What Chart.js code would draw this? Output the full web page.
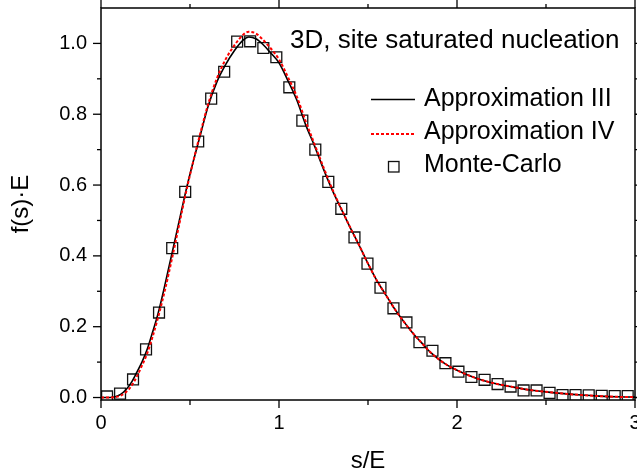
<!DOCTYPE html>
<html><head><meta charset="utf-8">
<script src="https://cdn.jsdelivr.net/npm/chart.js@4/dist/chart.umd.min.js"></script>
<style>html,body{margin:0;padding:0;background:#fff;overflow:hidden}</style>
</head><body>
<canvas id="c" width="637" height="473"></canvas>
<script>
// ---- data ----
const mcS = [0.034,0.107,0.180,0.253,0.326,0.400,0.473,0.546,0.619,0.692,0.765,0.838,0.912,0.985,1.058,1.131,1.204,1.277,1.350,1.424,1.497,1.570,1.643,1.716,1.789,1.862,1.935,2.008,2.081,2.155,2.228,2.301,2.374,2.447,2.520,2.593,2.666,2.740,2.813,2.886,2.959];
const mcF = [0.003,0.011,0.051,0.136,0.240,0.422,0.581,0.723,0.844,0.920,1.005,1.006,0.987,0.961,0.876,0.782,0.700,0.609,0.533,0.452,0.378,0.310,0.252,0.212,0.156,0.132,0.097,0.073,0.058,0.050,0.038,0.031,0.020,0.020,0.013,0.007,0.007,0.006,0.005,0.004,0.004];

const approx3S = [0.00,0.05,0.08,0.11,0.14,0.17,0.20,0.23,0.26,0.29,0.32,0.36,0.40,0.44,0.48,0.52,0.56,0.60,0.65,0.70,0.75,0.80,0.83,0.87,0.91,0.95,1.00,1.05,1.10,1.15,1.20,1.25,1.30,1.35,1.40,1.45,1.50,1.55,1.60,1.65,1.70,1.75,1.80,1.85,1.90,1.95,2.00,2.10,2.20,2.30,2.40,2.50,2.60,2.70,2.80,2.90,3.00];
const approx3F = [0.000,0.000,0.002,0.009,0.022,0.042,0.070,0.100,0.137,0.185,0.236,0.320,0.410,0.500,0.590,0.670,0.745,0.820,0.890,0.940,0.980,1.010,1.018,1.013,0.997,0.975,0.945,0.895,0.840,0.770,0.710,0.645,0.585,0.532,0.480,0.430,0.378,0.330,0.290,0.250,0.215,0.183,0.155,0.128,0.107,0.090,0.077,0.056,0.041,0.031,0.022,0.016,0.011,0.007,0.004,0.002,0.001];

const approx4S = [0.00,0.05,0.08,0.11,0.14,0.17,0.20,0.23,0.26,0.29,0.32,0.36,0.40,0.44,0.48,0.52,0.56,0.60,0.65,0.70,0.75,0.80,0.83,0.87,0.91,0.95,1.00,1.05,1.10,1.15,1.20,1.25,1.30,1.35,1.40,1.45,1.50,1.55,1.60,1.65,1.70,1.75,1.80,1.85,1.90,1.95,2.00,2.10,2.20,2.30,2.40,2.50,2.60,2.70,2.80,2.90,3.00];
const approx4F = [0.000,0.000,0.001,0.005,0.015,0.032,0.058,0.090,0.125,0.172,0.225,0.305,0.395,0.490,0.585,0.670,0.750,0.825,0.900,0.955,0.995,1.025,1.033,1.028,1.010,0.988,0.955,0.905,0.850,0.780,0.715,0.650,0.588,0.533,0.480,0.430,0.378,0.330,0.290,0.250,0.215,0.183,0.155,0.128,0.107,0.090,0.077,0.056,0.041,0.031,0.022,0.016,0.011,0.007,0.004,0.002,0.001];

const xMajorTicks = [0,1,2,3];
const xMinorTicks = [0.5,1.5,2.5];
const yMajorTicks = [0.0,0.2,0.4,0.6,0.8,1.0];
const yMinorTicks = [0.1,0.3,0.5,0.7,0.9];

const seriesNames = ['Approximation III','Approximation IV','Monte-Carlo'];
const plotTitle = '3D, site saturated nucleation';
const xTitle = 's/E';
const yTitle = 'f(s)\u00B7E';

const FONT = "'Liberation Sans', Arial, sans-serif";
const pts = (xs, ys) => xs.map((x, i) => ({x, y: ys[i]}));

const dsIII = {label: seriesNames[0], data: pts(approx3S, approx3F), showLine: true, borderColor: '#000', borderWidth: 1.6,
  pointRadius: 0, cubicInterpolationMode: 'monotone', order: 2, fill: false};
const dsIV = {label: seriesNames[1], data: pts(approx4S, approx4F), showLine: true, borderColor: '#ff0000', borderWidth: 2,
  borderDash: [3, 2], pointRadius: 0, cubicInterpolationMode: 'monotone', order: 1, fill: false};
const dsMC = {label: seriesNames[2], data: pts(mcS, mcF), showLine: false, pointStyle: 'rect', pointRadius: 7.7,
  pointBorderColor: '#111', pointBackgroundColor: 'rgba(0,0,0,0)', pointBorderWidth: 1.3, order: 3};

const framePlugin = {
  id: 'frame',
  beforeDraw(chart) {
    const ctx = chart.ctx;
    ctx.save(); ctx.fillStyle = '#fff'; ctx.fillRect(0, 0, chart.width, chart.height); ctx.restore();
  },
  afterDraw(chart) {
    const {ctx, chartArea: a, scales: {x, y}} = chart;
    ctx.save();
    ctx.strokeStyle = '#000';
    ctx.lineWidth = 1.5;
    ctx.strokeRect(a.left, a.top, a.right - a.left, a.bottom - a.top);
    const tick = (x1, y1, x2, y2) => { ctx.beginPath(); ctx.moveTo(x1, y1); ctx.lineTo(x2, y2); ctx.stroke(); };
    ctx.lineWidth = 1.3;
    xMajorTicks.forEach(v => { const p = x.getPixelForValue(v); tick(p, a.bottom, p, a.bottom + 8); tick(p, a.top, p, a.top - 8); });
    xMinorTicks.forEach(v => { const p = x.getPixelForValue(v); tick(p, a.bottom, p, a.bottom + 5); tick(p, a.top, p, a.top - 4); });
    yMajorTicks.forEach(v => { const p = y.getPixelForValue(v); tick(a.left, p, a.left - 8, p); tick(a.right, p, a.right + 8, p); });
    yMinorTicks.forEach(v => { const p = y.getPixelForValue(v); tick(a.left, p, a.left - 4, p); tick(a.right, p, a.right + 4, p); });

    // title inside plot
    ctx.fillStyle = '#000';
    ctx.font = '26px ' + FONT;
    ctx.textAlign = 'left';
    ctx.textBaseline = 'alphabetic';
    ctx.fillText(plotTitle, 290, 48);

    // legend
    const lx0 = 371, lx1 = 415, tx = 424;
    const rows = [99.5, 132.5, 165];
    ctx.font = '25px ' + FONT;
    ctx.textBaseline = 'middle';
    ctx.strokeStyle = dsIII.borderColor; ctx.lineWidth = dsIII.borderWidth; ctx.setLineDash([]);
    tick(lx0, rows[0], lx1, rows[0]);
    ctx.fillText(dsIII.label, tx, rows[0]);
    ctx.strokeStyle = dsIV.borderColor; ctx.lineWidth = dsIV.borderWidth; ctx.setLineDash(dsIV.borderDash);
    tick(lx0, rows[1] + 1.5, lx1, rows[1] + 1.5);
    ctx.setLineDash([]);
    ctx.fillText(dsIV.label, tx, rows[1]);
    ctx.strokeStyle = dsMC.pointBorderColor; ctx.lineWidth = dsMC.pointBorderWidth;
    ctx.strokeRect(388.5, rows[2] - 3.5, 10.5, 10.5);
    ctx.fillText(dsMC.label, tx, rows[2]);
    ctx.restore();
  }
};

new Chart(document.getElementById('c'), {
  type: 'scatter',
  data: {datasets: [dsIV, dsIII, dsMC]},
  options: {
    responsive: false, animation: false, devicePixelRatio: 1,
    layout: {autoPadding: false, padding: {top: 8, right: 2, left: 0, bottom: 0}},
    plugins: {legend: {display: false}, tooltip: {enabled: false}},
    scales: {
      x: {
        type: 'linear', min: 0, max: 3,
        afterFit(s) { s.height = 73; s.paddingLeft = 0; s.paddingRight = 0; },
        afterBuildTicks(s) { s.ticks = xMajorTicks.map(v => ({value: v})); },
        grid: {display: false, drawTicks: false}, border: {display: false},
        ticks: {padding: 11, color: '#000', font: {family: FONT, size: 20}, maxRotation: 0, autoSkip: false,
          callback: v => String(v)},
        title: {display: true, text: xTitle, color: '#000', font: {family: FONT, size: 24, lineHeight: 1}, padding: 0}
      },
      y: {
        type: 'linear', min: -0.007, max: 1.1,
        afterFit(s) { s.width = 101; s.paddingTop = 0; s.paddingBottom = 0; },
        afterBuildTicks(s) { s.ticks = yMajorTicks.map(v => ({value: v})); },
        grid: {display: false, drawTicks: false}, border: {display: false},
        ticks: {padding: 14, color: '#000', font: {family: FONT, size: 20}, autoSkip: false,
          callback: v => Number(v).toFixed(1)},
        title: {display: true, text: yTitle, color: '#000', font: {family: FONT, size: 24, lineHeight: 1}, padding: {top: 9, bottom: 0}}
      }
    }
  },
  plugins: [framePlugin]
});
</script>
</body></html>
